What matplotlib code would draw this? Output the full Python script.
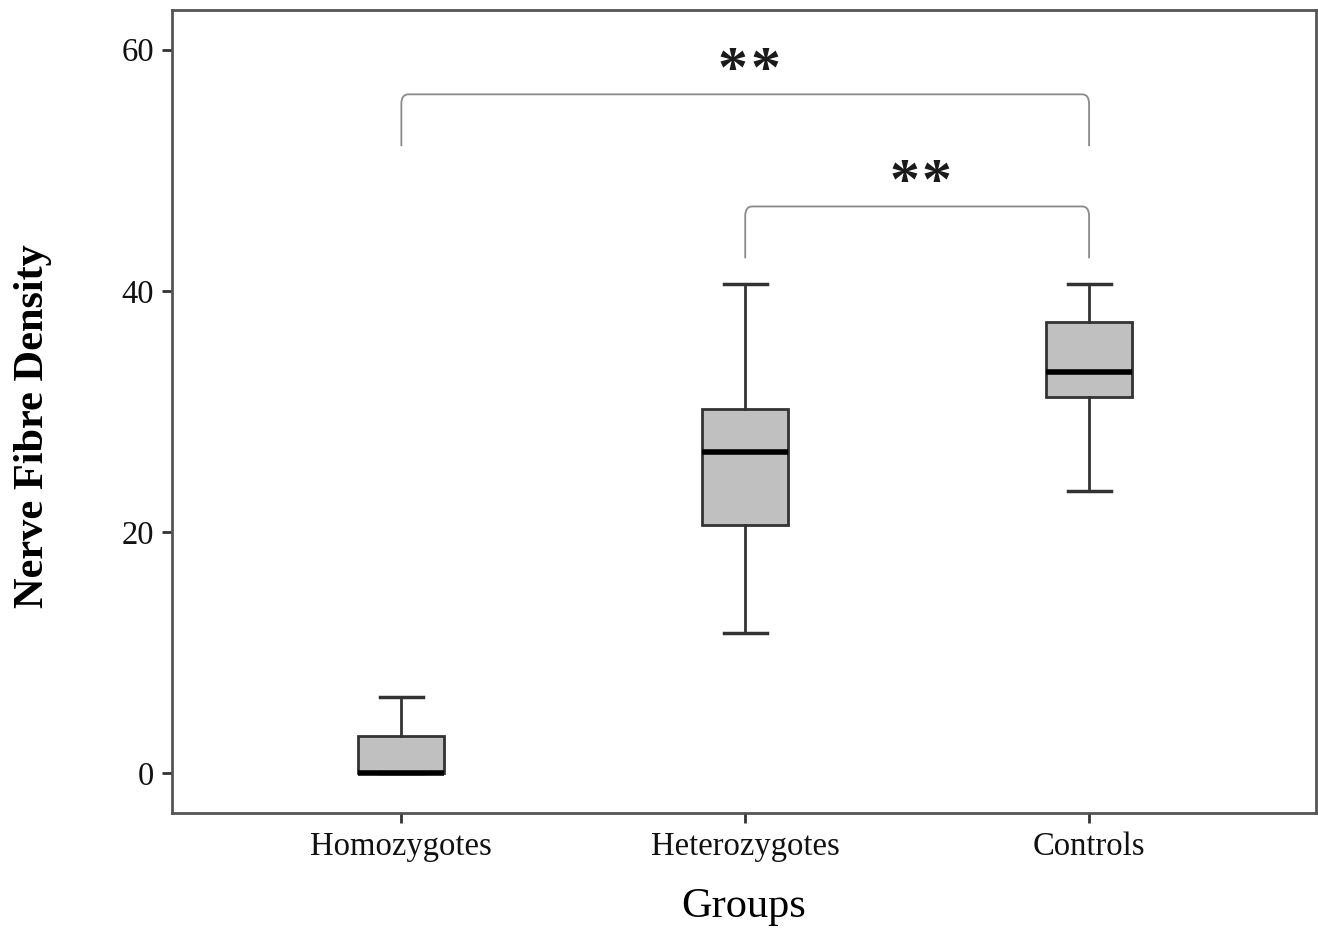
import matplotlib.pyplot as plt
from matplotlib.path import Path
from matplotlib.patches import PathPatch

plt.rcParams['font.family'] = ['Liberation Serif', 'DejaVu Serif']

# Box summary per group
groups = ['Homozygotes', 'Heterozygotes', 'Controls']
whislo = [0.0, 11.6, 23.4]
q1 = [0.0, 20.6, 31.2]
med = [0.0, 26.6, 33.3]
q3 = [3.1, 30.2, 37.4]
whishi = [6.3, 40.6, 40.6]

# Significance brackets: (start group, end group, bar height, leg bottom, label)
brackets = [(0, 2, 56.3, 52.0, '**'), (1, 2, 47.0, 42.7, '**')]

fig = plt.figure(figsize=(13.18, 9.31), dpi=100)
ax = fig.add_axes([0.1305, 0.1267, 0.868, 0.8626])

stats = []
for i, g in enumerate(groups):
    stats.append(dict(label=g, whislo=whislo[i], q1=q1[i], med=med[i],
                      q3=q3[i], whishi=whishi[i], fliers=[]))

pos = [1, 2, 3]
ax.bxp(stats, positions=pos, widths=0.25, patch_artist=True,
       boxprops=dict(facecolor='#c0c0c0', edgecolor='#333333', linewidth=2),
       medianprops=dict(color='black', linewidth=4),
       whiskerprops=dict(color='#333333', linewidth=2),
       capprops=dict(color='#333333', linewidth=2.5),
       capwidths=0.125, showfliers=False)

# brackets with rounded corners
for a, b, top, low, lab in brackets:
    xa, xb = pos[a], pos[b]
    r = 0.02
    verts = [(xa, low), (xa, top - 0.8), (xa, top), (xa + r, top),
             (xb - r, top), (xb, top), (xb, top - 0.8), (xb, low)]
    codes = [Path.MOVETO, Path.LINETO, Path.CURVE3, Path.CURVE3,
             Path.LINETO, Path.CURVE3, Path.CURVE3, Path.LINETO]
    ax.add_patch(PathPatch(Path(verts, codes), fill=False,
                           edgecolor='#8a8a8a', linewidth=1.3))
    # each star drawn on its own so they sit a little apart
    n = len(lab)
    for k, ch in enumerate(lab):
        dx = (k - (n - 1) / 2) * 23.5
        ax.annotate(ch, ((xa + xb) / 2 + 0.01, top - 0.45),
                    xytext=(dx, 0), textcoords='offset points',
                    ha='center', va='bottom', fontsize=43,
                    fontweight='bold', color='#1a1a1a')

ax.set_xlim(0.333, 3.66)
ax.set_ylim(-3.32, 63.3)
ax.set_yticks([0, 20, 40, 60])
ax.set_xticks(pos)
ax.set_xticklabels(groups)
ax.tick_params(axis='both', labelsize=23.5, colors='#333333',
               labelcolor='#111111', length=7, width=2, pad=6)
ax.tick_params(axis='x', pad=6)
for s in ax.spines.values():
    s.set_color('#555555')
    s.set_linewidth(2)

ax.set_xlabel('Groups', fontsize=30.5, labelpad=19)
fig.text(33 / 1318, 1 - 426 / 931, 'Nerve Fibre Density', rotation=90,
         ha='center', va='center', fontsize=30.5, fontweight='bold')

fig.savefig('out.png', dpi=100)
